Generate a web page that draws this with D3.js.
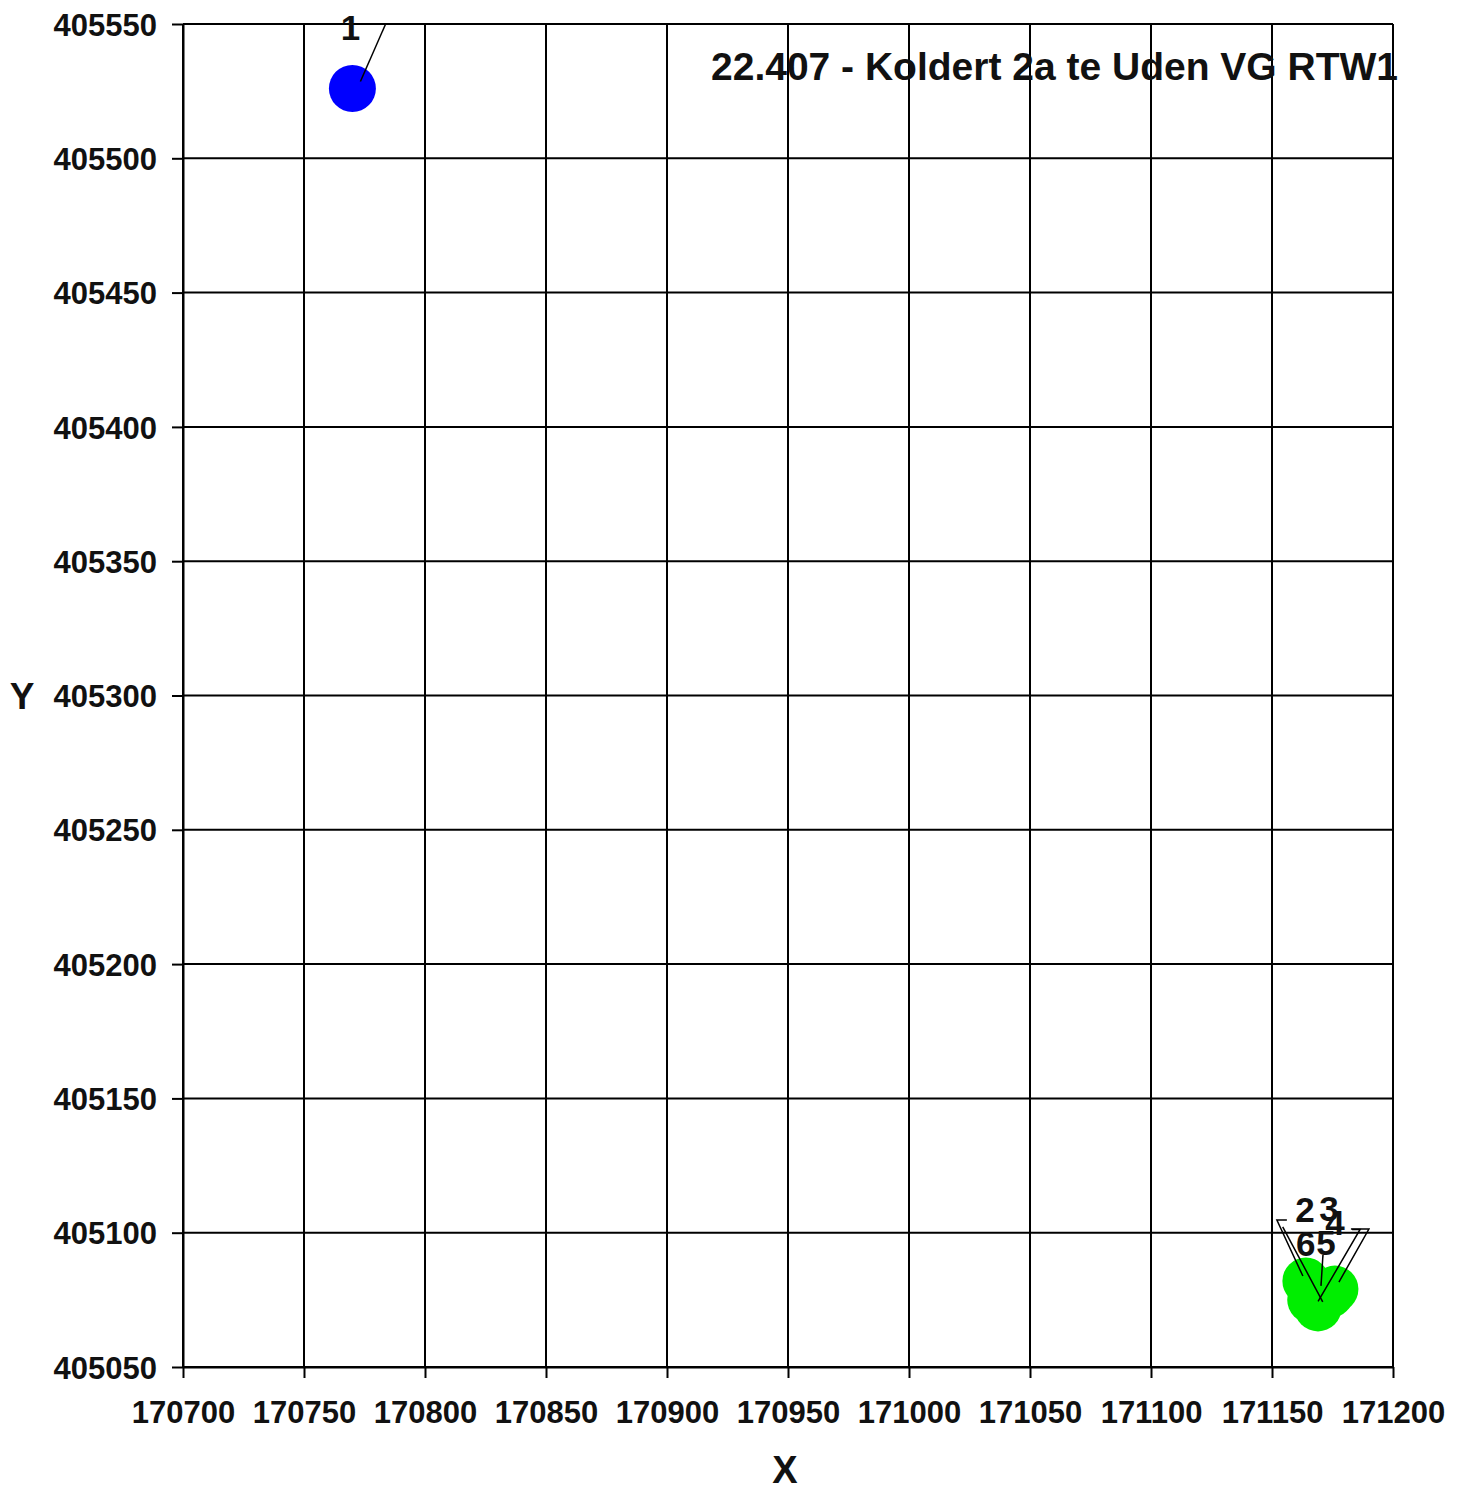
<!DOCTYPE html>
<html>
<head>
<meta charset="utf-8">
<script src="https://cdn.jsdelivr.net/npm/d3@7"></script>
<style>
  html, body { margin: 0; padding: 0; background: #fff; }
  svg { display: block; font-family: "Liberation Sans", Arial, sans-serif; }
</style>
</head>
<body>
<svg id="chart" width="1466" height="1491"></svg>
<script>
// ---- data ----
const chartTitle = "22.407 - Koldert 2a te Uden VG RTW1";
const xAxisLabel = "X";
const yAxisLabel = "Y";
const pointIds = ["1", "2", "3", "4", "5", "6"];
const xValues = [170770, 171164, 171176, 171174, 171169, 171166];
const yValues = [405526, 405082, 405079, 405077, 405072, 405075];
const pointGroups = ["a", "b", "b", "b", "b", "b"];
const xTicks = [170700, 170750, 170800, 170850, 170900, 170950, 171000, 171050, 171100, 171150, 171200];
const yTicks = [405050, 405100, 405150, 405200, 405250, 405300, 405350, 405400, 405450, 405500, 405550];

// ---- layout / style ----
const groupColor = { a: "#0000ff", b: "#00ee00" };
// label offsets (px from point centre: dx = text centre, dy = baseline) and leader polylines
const labelLayout = {
  "1": { dx: -2, dy: -48, leader: [[33, -64], [8, -7]] },
  "2": { dx: -1, dy: -59, leader: [[-19, -61], [-29, -61], [-3, -5]] },
  "3": { dx: -6, dy: -68, leader: [[16, -60], [34, -60], [4, -7]] },
  "4": { dx: 5, dy: -59, leader: [[22, -65], [30, -65], [-12, 7]] },
  "5": { dx: 8, dy: -53, leader: [[5, -53], [3, -22]] },
  "6": { dx: -5, dy: -44, leader: [[-28, -73], [12, 2]] }
};

const svg = d3.select("#chart");
const mLeft = 183, mRight = 1393, mTop = 24, mBottom = 1367;

const x = d3.scaleLinear().domain([170700, 171200]).range([mLeft, mRight]);
const y = d3.scaleLinear().domain([405050, 405550]).range([mBottom, mTop]);

// grid
const grid = svg.append("g");
grid.selectAll("line.v").data(xTicks).join("line").attr("class", "v")
  .attr("x1", d => x(d)).attr("x2", d => x(d))
  .attr("y1", mTop).attr("y2", mBottom)
  .attr("stroke", "#000").attr("stroke-width", 2);
grid.selectAll("line.h").data(yTicks).join("line").attr("class", "h")
  .attr("y1", d => y(d)).attr("y2", d => y(d))
  .attr("x1", mLeft).attr("x2", mRight)
  .attr("stroke", "#000").attr("stroke-width", 2);

// axes
const xAxis = d3.axisBottom(x).tickValues(xTicks).tickFormat(d3.format("d")).tickSize(11).tickPadding(23).tickSizeOuter(0);
const yAxis = d3.axisLeft(y).tickValues(yTicks).tickFormat(d3.format("d")).tickSize(11).tickPadding(15).tickSizeOuter(0);

const gx = svg.append("g").attr("transform", `translate(0,${mBottom})`).call(xAxis);
const gy = svg.append("g").attr("transform", `translate(${mLeft},0)`).call(yAxis);
[gx, gy].forEach(g => {
  g.select(".domain").attr("stroke", "#000").attr("stroke-width", 2);
  g.selectAll(".tick line").attr("stroke", "#000").attr("stroke-width", 2);
  g.selectAll(".tick text")
    .attr("fill", "#111")
    .attr("font-size", 31)
    .attr("font-weight", "bold")
    .attr("font-family", "'Liberation Sans', Arial, sans-serif");
});
gx.selectAll(".tick text").attr("dy", "0.71em");
gy.selectAll(".tick text").attr("dy", "0.36em");

// points
const points = pointIds.map((id, i) => ({ id, x: xValues[i], y: yValues[i], g: pointGroups[i] }));
svg.append("g").selectAll("circle").data(points).join("circle")
  .attr("cx", d => x(d.x)).attr("cy", d => y(d.y)).attr("r", 23.5)
  .attr("fill", d => groupColor[d.g]);

// leader lines
svg.append("g").selectAll("polyline").data(points).join("polyline")
  .attr("points", d => labelLayout[d.id].leader.map(p => [x(d.x) + p[0], y(d.y) + p[1]].join(",")).join(" "))
  .attr("fill", "none").attr("stroke", "#000").attr("stroke-width", 1.5);

// labels
svg.append("g").selectAll("text").data(points).join("text")
  .attr("x", d => x(d.x) + labelLayout[d.id].dx)
  .attr("y", d => y(d.y) + labelLayout[d.id].dy)
  .attr("text-anchor", "middle")
  .attr("font-size", 35).attr("font-weight", "bold")
  .attr("fill", "#111")
  .text(d => d.id);

// title
svg.append("text")
  .attr("x", 711).attr("y", 80)
  .attr("font-size", 39).attr("font-weight", "bold").attr("fill", "#111")
  .text(chartTitle);

// axis labels
svg.append("text").attr("x", 22).attr("y", 709).attr("text-anchor", "middle")
  .attr("font-size", 37).attr("font-weight", "bold").attr("fill", "#111").text(yAxisLabel);
svg.append("text").attr("x", 785).attr("y", 1483).attr("text-anchor", "middle")
  .attr("font-size", 38).attr("font-weight", "bold").attr("fill", "#111").text(xAxisLabel);
</script>
</body>
</html>
